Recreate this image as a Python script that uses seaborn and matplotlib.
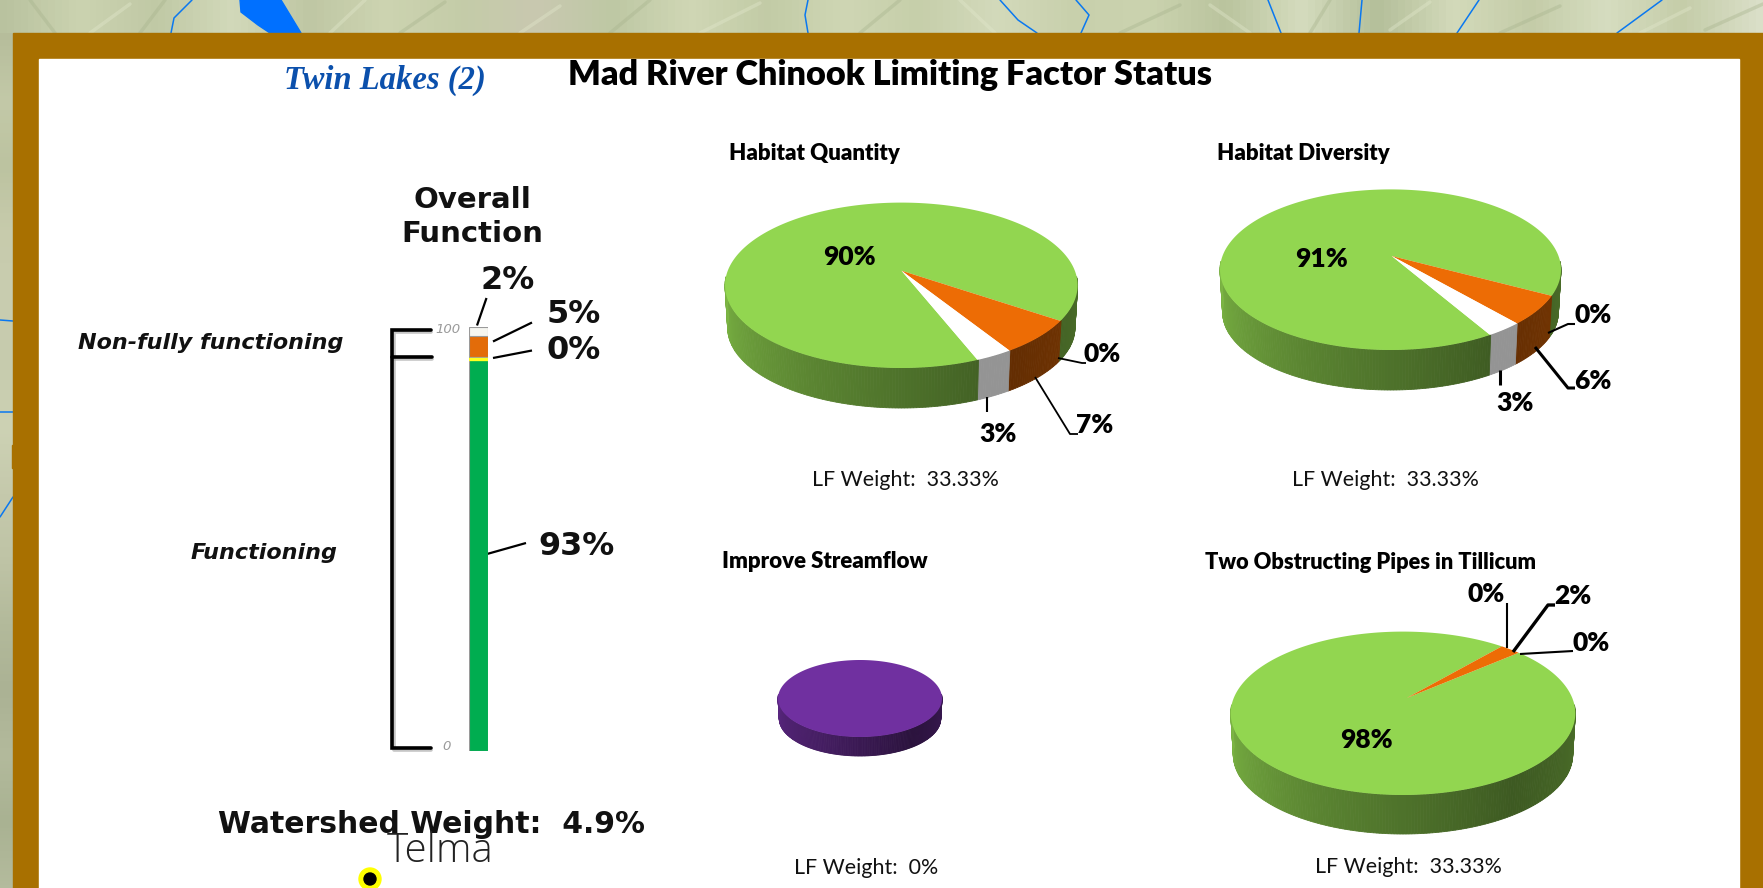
"""Mad River Chinook limiting factor status panel, drawn over a map backdrop."""

import matplotlib
matplotlib.use("Agg")
import matplotlib.pyplot as plt
from matplotlib.colors import LinearSegmentedColormap, to_rgb
from matplotlib.patches import Circle, Rectangle
import numpy as np
import pandas as pd
import seaborn as sns

sns.set_theme(style="white")

W, H = 1763, 888

# overall function bar
bar_labels = ["Functioning", "Other", "Non-fully", "Unknown"]
bar_values = [93, 0, 5, 2]
bar_colors = ["#00AD50", "#FFFF20", "#E36C09", "#F6F6F0"]

# pie values, going clockwise from the first slice (labels show them rounded)
quantity_values = [7.4, 3.4, 89.2, 0]
diversity_values = [6.4, 3.4, 90.2, 0]
streamflow_values = [100]
pipes_values = [2, 98, 0, 0]
quantity_colors = ["#ED6C05", "#FFFFFF", "#92D650", "#92D650"]
pipes_colors = ["#ED6C05", "#92D650", "#92D650", "#92D650"]
streamflow_colors = ["#7030A0"]

GREEN = "#92D650"
BROWN = "#A87000"
BLUE = "#0A78F0"

# soft terrain tones for the strips of map that show round the panel
top_tones = ["#B9C29F", "#CBD3B0", "#C0C9A5", "#D2D9BA", "#BFC7A4", "#CDD4B1", "#C4CCA8", "#C9C8B0",
             "#BEC8A4", "#D0D7B5", "#C2CBA6", "#CFD6B4", "#C6CFAA", "#D3DABB", "#C8D0AC", "#CBD3AF",
             "#BAC49E", "#D5DCBE", "#B4BF9A", "#D3DABA", "#C4CCA8", "#D6DDC0", "#C5CDA9", "#DADFC8"]
left_tones = ["#B6BD9B", "#C3C9A8", "#BCC3A0", "#C7CBAC", "#C9CDB0", "#C6CBAD", "#CDD2B4", "#C5C9AC",
              "#BFC4A6", "#B3BA9B", "#ABB294", "#B3BA9C", "#A9B292", "#B4BB9D"]


def pie3d(ax, values, colors, start, cx, cy, a, b, apex, bottom, shade_left=0.85, shade_low=0.42):
    """Fake a tilted 3D pie: side wall first, then the top face."""
    edges = start + np.cumsum([0] + list(values)) * 3.6
    a2, b2 = a * 0.985, b * 0.97
    cy2 = bottom - b2

    def colour_at(theta):
        for i in range(len(values)):
            for shift in (0, 360, -360):
                if edges[i] <= theta + shift < edges[i + 1]:
                    return colors[i]
        return colors[-1]

    for t in np.arange(-6, 186, 1.0):
        k = np.interp(t, [-6, 50, 120, 186], [0.52, shade_low, 0.62, shade_left])
        col = np.array(to_rgb(colour_at(t + 0.5)))
        if colour_at(t + 0.5) == "#FFFFFF":
            col = np.array([0.58, 0.58, 0.58])
        else:
            col = col * k
        ang = np.radians([t, t + 1.0, t + 1.0, t])
        xs = np.r_[cx + a * np.cos(ang[:2]), cx + a2 * np.cos(ang[2:])]
        ys = np.r_[cy + b * np.sin(ang[:2]), cy2 + b2 * np.sin(ang[2:])]
        ax.fill(xs, ys, color=col, lw=0.6, zorder=3)

    # biggest slice first so it does not eat the tips of the thin ones
    for i in np.argsort(values)[::-1]:
        if values[i] == 0:
            continue
        th = np.radians(np.linspace(edges[i], edges[i + 1], max(int(values[i] * 4), 8)))
        xs = np.r_[apex[0], cx + a * np.cos(th)]
        ys = np.r_[apex[1], cy + b * np.sin(th)]
        ax.fill(xs, ys, color=colors[i], lw=0, zorder=4)


def leader(ax, xs, ys, lw=1.3):
    ax.plot(xs, ys, color="black", lw=lw, solid_capstyle="butt", zorder=6)


def label(ax, x, y, s, **kw):
    kw.setdefault("ha", "center")
    kw.setdefault("va", "center")
    kw.setdefault("zorder", 7)
    return ax.text(x, y + 2, s, **kw)


fig = plt.figure(figsize=(W / 100, H / 100), dpi=100)
ax = fig.add_axes([0, 0, 1, 1])
ax.set_xlim(0, W)
ax.set_ylim(H, 0)
ax.axis("off")

# map backdrop
top_cmap = LinearSegmentedColormap.from_list("top", top_tones)
left_cmap = LinearSegmentedColormap.from_list("left", left_tones)
ax.imshow(np.linspace(0, 1, 256)[None, :], cmap=top_cmap, extent=(0, W, 34, 0), aspect="auto", zorder=0)
ax.imshow(np.linspace(0, 1, 256)[:, None], cmap=left_cmap, extent=(0, 14, H, 34), aspect="auto", zorder=0)
ax.set_xlim(0, W)
ax.set_ylim(H, 0)
ridges = [
    (30, 0, 55, 33), (90, 33, 130, 4), (140, 33, 165, 0), (330, 33, 365, 0), (400, 33, 445, 2),
    (520, 33, 560, 6), (610, 33, 650, 0), (700, 33, 760, 3), (860, 33, 900, 0), (960, 0, 995, 33),
    (1120, 33, 1180, 5), (1210, 5, 1250, 33), (1310, 33, 1330, 0), (1390, 30, 1430, 2),
    (1500, 33, 1560, 6), (1640, 33, 1690, 8), (1705, 30, 1763, 4),
]
for i, (x0, y0, x1, y1) in enumerate(ridges):
    ax.plot([x0, x1], [y0, y1], color="#E2E8CC" if i % 2 else "#A8B48E", lw=2.5, alpha=0.4, zorder=1)

streams = [
    ([192, 174, 171], [0, 18, 33]), ([808, 805, 808], [0, 15, 33]), ([1000, 1018, 1037], [0, 20, 33]),
    ([1076, 1089, 1081], [0, 15, 33]), ([1268, 1281], [0, 33]), ([1362, 1359], [0, 33]),
    ([1479, 1457], [0, 33]), ([1662, 1617], [0, 33]), ([0, 13], [320, 321]), ([0, 13], [412, 412]),
    ([0, 13], [517, 497]),
]
for xs, ys in streams:
    ax.plot(xs, ys, color=BLUE, lw=1.1, zorder=1)
ax.fill([240, 281, 301, 270, 258, 241], [0, 0, 33, 33, 25, 12], color="#0070FF", zorder=1)

# brown frame and white panel
ax.add_patch(Rectangle((12.5, 33), W, H, color=BROWN, zorder=1.5))
ax.add_patch(Rectangle((12, 445), 28, 23, color=BROWN, zorder=1.5))
ax.add_patch(Rectangle((39, 59), 1700, H, color="white", zorder=2))

# headings
label(ax, 385, 78, "Twin Lakes (2)", family="Liberation Serif", style="italic", weight="bold",
      fontsize=23.5, color="#0B50AC")
label(ax, 890, 73, "Mad River Chinook Limiting Factor Status", family="Lato", weight="heavy",
      fontsize=24.7, color="black")

# overall function bar, stacked by overplotting the running totals
bar_ax = fig.add_axes([469 / W, 1 - 751 / H, 19 / W, (751 - 327.5) / H])
running = np.cumsum(bar_values)
bar_df = pd.DataFrame({"group": ["Overall"] * 4, "part": bar_labels, "total": running})
for i in [3, 2, 1, 0]:
    sns.barplot(data=bar_df.iloc[[i]], x="group", y="total", color=bar_colors[i], width=1.0,
                saturation=1, edgecolor="#9A9A9A", linewidth=0.8, ax=bar_ax)
bar_ax.hlines(running[1] - 0.5, -0.6, 0.6, color=bar_colors[1], lw=2.4, zorder=5)
bar_ax.set_xlim(-0.5, 0.5)
bar_ax.set_ylim(0, 100)
bar_ax.axis("off")

ink = "#111111"
label(ax, 472, 198, "Overall", weight="bold", fontsize=21, color=ink)
label(ax, 472, 232, "Function", weight="bold", fontsize=21, color=ink)
label(ax, 508, 278, "2%", weight="bold", fontsize=23, color=ink)
label(ax, 574, 312, "5%", weight="bold", fontsize=23, color=ink)
label(ax, 574, 348, "0%", weight="bold", fontsize=23, color=ink)
label(ax, 577, 544, "93%", weight="bold", fontsize=23, color=ink)
leader(ax, [486.5, 477], [298, 325.5], 1.6)
leader(ax, [532, 493], [322.5, 341.5], 1.6)
leader(ax, [532, 493], [350.5, 358], 1.6)
leader(ax, [526, 487], [543, 554], 1.6)

# brackets with their faint shadow, and scale labels
ax.plot([431, 394, 394, 431], [332, 332, 750, 750], color="#A0A0A0", lw=2.6, alpha=0.6, zorder=4.5)
ax.plot([392, 432], [359, 359], color="#A0A0A0", lw=2.6, alpha=0.6, zorder=4.5)
ax.plot([431, 392, 392, 431], [330, 330, 748, 748], color="black", lw=2.6, solid_joinstyle="miter", zorder=5)
ax.plot([392, 432], [357, 357], color="black", lw=2.6, zorder=5)
label(ax, 448, 327, "100", style="italic", fontsize=9.5, color="#9A9A9A")
label(ax, 447, 744, "0", style="italic", fontsize=9.5, color="#9A9A9A")
label(ax, 211, 341, "Non-fully functioning", style="italic", weight="bold", fontsize=16, color=ink)
label(ax, 264, 551, "Functioning", style="italic", weight="bold", fontsize=16, color=ink)

label(ax, 431, 822, "Watershed Weight:  4.9%", weight="bold", fontsize=21.5, color=ink)
label(ax, 440, 849, "Telma", family="Open Sans", weight="light", fontsize=29, color="#222222", zorder=8)
ax.add_patch(Circle((370, 879), 11, color="#FFFF00", zorder=7))
ax.add_patch(Circle((370, 879), 6, color="black", zorder=8))

# pies
pie3d(ax, quantity_values, quantity_colors, 25.5, 901.3, 285.3, 176.3, 82.7, (901.5, 270.7), 408)
pie3d(ax, diversity_values, quantity_colors, 19, 1390.5, 269.7, 170.5, 80.3, (1391.7, 256), 390)
pie3d(ax, streamflow_values, streamflow_colors, 0, 860, 698.5, 82, 38.5, (860, 698.5), 756,
      shade_left=0.8, shade_low=0.38)
pie3d(ax, pipes_values, pipes_colors, -55, 1403, 713.3, 172.3, 81.7, (1406.7, 698), 834)

titles = [("Habitat Quantity", 814.5, 152), ("Habitat Diversity", 1303, 152),
          ("Improve Streamflow", 825, 559), ("Two Obstructing Pipes in Tillicum", 1370.5, 560)]
title_sizes = [16, 16, 16, 15.7]
for (text, x, y), size in zip(titles, title_sizes):
    label(ax, x, y, text, family="Lato", weight="heavy", fontsize=size, color="black")

weights = [("LF Weight:  33.33%", 905, 478), ("LF Weight:  33.33%", 1385, 478),
           ("LF Weight:  0%", 866, 866), ("LF Weight:  33.33%", 1408, 865)]
for text, x, y in weights:
    label(ax, x, y, text, family="Lato", fontsize=15.4, color=ink)

pie_labels = [
    ("90%", 849, 255), ("0%", 1102, 352), ("7%", 1095, 423), ("3%", 998, 432),
    ("91%", 1322, 257), ("0%", 1593, 313), ("6%", 1593, 379), ("3%", 1515, 401),
    ("98%", 1366, 738), ("0%", 1486, 592), ("2%", 1573, 594), ("0%", 1591, 641),
]
for text, x, y in pie_labels:
    label(ax, x, y, text, family="Lato", weight="heavy", fontsize=19, color="black")

leader(ax, [1058, 1082, 1086], [358, 363, 363])
leader(ax, [1035, 1070, 1078], [377, 434, 434])
leader(ax, [987, 987], [397, 412], 1.5)
leader(ax, [1548, 1568, 1575], [333, 324, 324], 1.5)
leader(ax, [1535, 1568, 1575], [347, 388, 388], 2.2)
leader(ax, [1500, 1500], [370, 385], 2.2)
leader(ax, [1507, 1507], [603, 648], 1.5)
leader(ax, [1513, 1548, 1555], [652, 605, 605], 2.4)
leader(ax, [1520, 1573], [654, 651], 1.5)

fig.savefig("out.png", dpi=100)
plt.close(fig)
